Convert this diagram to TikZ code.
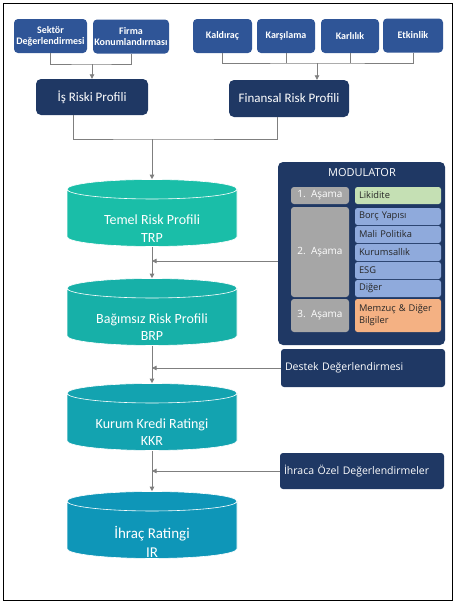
\documentclass[tikz,border=0pt]{standalone}
\usepackage{fontspec}
\setmainfont{Carlito}
\newfontfamily\segoe{Open Sans}
\usepackage{tikz}
\usetikzlibrary{shapes.geometric, arrows.meta, positioning, calc}

\definecolor{navy}{HTML}{1F3864}
\definecolor{topblue}{HTML}{2F5597}
\definecolor{linegray}{HTML}{7F7F7F}
\definecolor{stagegray}{HTML}{A6A6A6}
\definecolor{likgreen}{HTML}{C5E0B4}
\definecolor{rowblue}{HTML}{8FAADC}
\definecolor{memorange}{HTML}{F4B183}
\definecolor{rowtext}{HTML}{262626}
\definecolor{trpcol}{HTML}{1ABEA8}
\definecolor{brpcol}{HTML}{17B0A8}
\definecolor{kkrcol}{HTML}{13A3B0}
\definecolor{ircol}{HTML}{0E96B8}

\begin{document}
\begin{tikzpicture}[x=1pt, y=-1pt,
    inbox/.style={rounded corners=4pt, fill=topblue, text=white, align=center,
      inner sep=1pt, minimum height=34pt,
      font=\fontsize{10}{11}\selectfont\bfseries},
    profbox/.style={rounded corners=5pt, fill=navy, text=white, inner sep=1pt,
      font=\fontsize{13}{14}\selectfont},
    cyl/.style={cylinder, shape border rotate=90, aspect=0.13, text width=150pt,
      minimum width=170pt, minimum height=67pt, draw=white, line width=0.6pt,
      inner sep=0pt},
    cyltext/.style={text=white, align=center, inner sep=0pt,
      font=\fontsize{14}{17.5}\selectfont},
    sidebox/.style={rounded corners=3pt, fill=navy, text=white, align=left,
      minimum width=164pt, text width=156pt, inner xsep=4pt,
      font=\segoe\fontsize{10.5}{12}\selectfont},
    stagebox/.style={rounded corners=3pt, fill=stagegray, text=white,
      minimum width=58pt, inner sep=0pt, font=\segoe\fontsize{10}{11}\selectfont},
    rowbox/.style={rounded corners=2.5pt, text=rowtext, align=left,
      minimum height=17pt, text width=78pt, inner xsep=4pt, inner ysep=0pt,
      font=\segoe\fontsize{9.3}{12}\selectfont},
    conn/.style={draw=linegray, line width=0.8pt},
    arr/.style={conn, -{Triangle[length=4.5pt, width=4.5pt]}}]

  \useasboundingbox (0,0) rectangle (457,606);
  \draw[line width=0.9pt] (3.5,3.5) rectangle (452.5,600.5);

  % inputs
  \node[inbox, minimum width=73pt] (sek) at (50.5,36) {Sektör\\Değerlendirmesi};
  \node[inbox, minimum width=76pt] (fir) at (131,36.5) {Firma\\Konumlandırması};
  \node[inbox, minimum width=59pt] (kal) at (222.5,36) {Kaldıraç};
  \node[inbox, minimum width=58pt] (kar) at (286,36) {Karşılama};
  \node[inbox, minimum width=58pt] (krl) at (350,36) {Karlılık};
  \node[inbox, minimum width=60pt] (etk) at (413,35.5) {Etkinlik};

  \node[profbox, minimum width=112pt, minimum height=36pt] (isr) at (92,97) {İş Riski Profili};
  \node[profbox, minimum width=120pt, minimum height=37pt] (fin) at (289,98.5) {Finansal Risk Profili};

  \coordinate (isj) at (92,64);
  \draw[conn] (sek) |- (isj) -| (fir);
  \draw[arr] (isj) -- (isr);
  \coordinate (fij) at (317,63);
  \draw[conn] (kal) |- (fij) -| (etk);
  \draw[conn] (kar) -- (kar |- fij);
  \draw[conn] (krl) -- (krl |- fij);
  \draw[arr] (fij) -- (fin.north -| fij);

  % rating steps
  \node[cyl, fill=trpcol] (trp) at (152,218) {};
  \node[cyl, fill=brpcol] (brp) at (152,317) {};
  \node[cyl, fill=kkrcol] (kkr) at (152,422) {};
  \node[cyl, fill=ircol] (ir) at (152,530) {};
  \node[cyltext] (trpt) at ([yshift=-10.5pt]trp.center) {Temel Risk Profili\\TRP};
  \node[cyltext] (brpt) at ([yshift=-10pt]brp.center) {Bağımsız Risk Profili\\BRP};
  \node[cyltext] (kkrt) at ([yshift=-10pt]kkr.center) {Kurum Kredi Ratingi\\KKR};
  \node[cyltext, font=\fontsize{15}{18.5}\selectfont] (irt) at ([yshift=-12pt]ir.center) {İhraç Ratingi\\IR};

  \coordinate (mj) at (152,139);
  \draw[conn] ([xshift=-19pt]isr.south) |- (mj) -| ([xshift=-12pt]fin.south);
  \draw[arr] (mj) -- (trp);
  \draw[arr] (trp) -- (brp);
  \draw[arr] (brp) -- (kkr);
  \draw[arr] (kkr) -- (ir);

  % modulator
  \node[rounded corners=5pt, fill=navy, minimum width=167pt, minimum height=183pt] (mod) at (361.5,253.5) {};
  \node[text=white, font=\segoe\fontsize{11}{13}\selectfont] (modt) at (362,172.5) {MODULATOR};
  \node[stagebox, minimum height=17pt] (st1) at (320,195.5) {1.\ \ Aşama};
  \node[stagebox, minimum height=90pt] (st2) at (320,252) {2.\ \ Aşama};
  \node[stagebox, minimum height=33pt] (st3) at (320,315.5) {3.\ \ Aşama};
  \node[rowbox, fill=likgreen] (lik) at (398,195.5) {Likidite};
  \foreach \t [count=\i] in {Borç Yapısı, Mali Politika, Kurumsallık, ESG, Diğer}
    \node[rowbox, fill=rowblue] (r\i) at (398,198.5+18*\i) {\t};
  \node[rowbox, fill=memorange, minimum height=33pt] (mem) at (398,315.5) {Memzuç \& Diğer\\Bilgiler};

  \coordinate (mi) at (152,261);
  \draw[arr] (mod.west |- mi) -- (mi);

  % extra assessments
  \node[sidebox, minimum height=38pt] (des) at (363,368) {Destek Değerlendirmesi};
  \node[sidebox, minimum height=36pt] (ihr) at (362,471) {İhraca Özel Değerlendirmeler};
  \draw[arr] (des.west) -- (des.west -| brp);
  \draw[arr] (ihr.west) -- (ihr.west -| kkr);
\end{tikzpicture}
\end{document}
